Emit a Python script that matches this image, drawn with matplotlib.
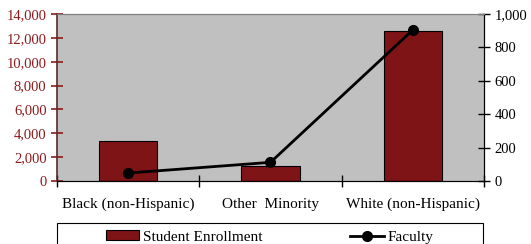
import numpy as np
import matplotlib.pyplot as plt
from matplotlib.patches import Rectangle
from matplotlib.ticker import FuncFormatter

categories = ["Black (non-Hispanic)", "Other  Minority", "White (non-Hispanic)"]
enrollment = [3350, 1230, 12560]
faculty = [48, 112, 905]

plt.rcParams['font.family'] = ['Liberation Serif', 'DejaVu Serif']

fig = plt.figure(figsize=(5.31, 2.44), dpi=100)
ax = fig.add_axes([0.1073, 0.258, 0.8042, 0.6844])
ax.set_facecolor('#c0c0c0')

x = np.arange(len(categories))
bars = ax.bar(x, enrollment, width=0.41, color='#7f1416', edgecolor='black',
              linewidth=0.8, label='Student Enrollment', zorder=2)
ax.set_xlim(-0.5, 2.5)
ax.set_ylim(0, 14000)
ax.set_yticks(np.arange(0, 14001, 2000))
ax.yaxis.set_major_formatter(FuncFormatter(lambda v, p: f"{int(v):,}"))
ax.tick_params(axis='y', colors='#8b1a1a', labelsize=10.5, direction='inout', length=8, width=1.2)
ax.set_xticks(x)
ax.set_xticklabels(categories, fontsize=11)
ax.tick_params(axis='x', length=0, pad=12)
ax.set_xticks([-0.5, 0.5, 1.5, 2.5], minor=True)
ax.tick_params(axis='x', which='minor', direction='inout', length=8, width=1)

ax2 = ax.twinx()
line, = ax2.plot(x, faculty, color='black', linewidth=2, marker='o',
                 markersize=7, label='Faculty', zorder=3)
ax2.set_ylim(0, 1000)
ax2.set_yticks(np.arange(0, 1001, 200))
ax2.yaxis.set_major_formatter(FuncFormatter(lambda v, p: f"{int(v):,}"))
ax2.tick_params(axis='y', labelsize=10.5, direction='inout', length=8, width=1)

for a in (ax, ax2):
    a.spines['top'].set_color('#808080')
ax.spines['left'].set_color('#5a2a2a')
ax.spines['left'].set_linewidth(1.2)
ax2.spines['left'].set_visible(False)
ax2.spines['right'].set_color('black')
ax2.spines['bottom'].set_color('black')

# legend box (cut off at the bottom edge like the original)
fig.patches.append(Rectangle((57 / 531, -0.1), 426 / 531, 0.1 + 21 / 244,
                             transform=fig.transFigure, facecolor='white',
                             edgecolor='black', linewidth=0.8))
leg = fig.legend([bars, line], ['Student Enrollment', 'Faculty'], ncol=2,
                 loc='center', bbox_to_anchor=(0.508, 7 / 244),
                 frameon=False, fontsize=11, handlelength=2.2, handleheight=0.6,
                 borderpad=0, handletextpad=0.25, columnspacing=5.75)

fig.savefig('out.png', dpi=100)
